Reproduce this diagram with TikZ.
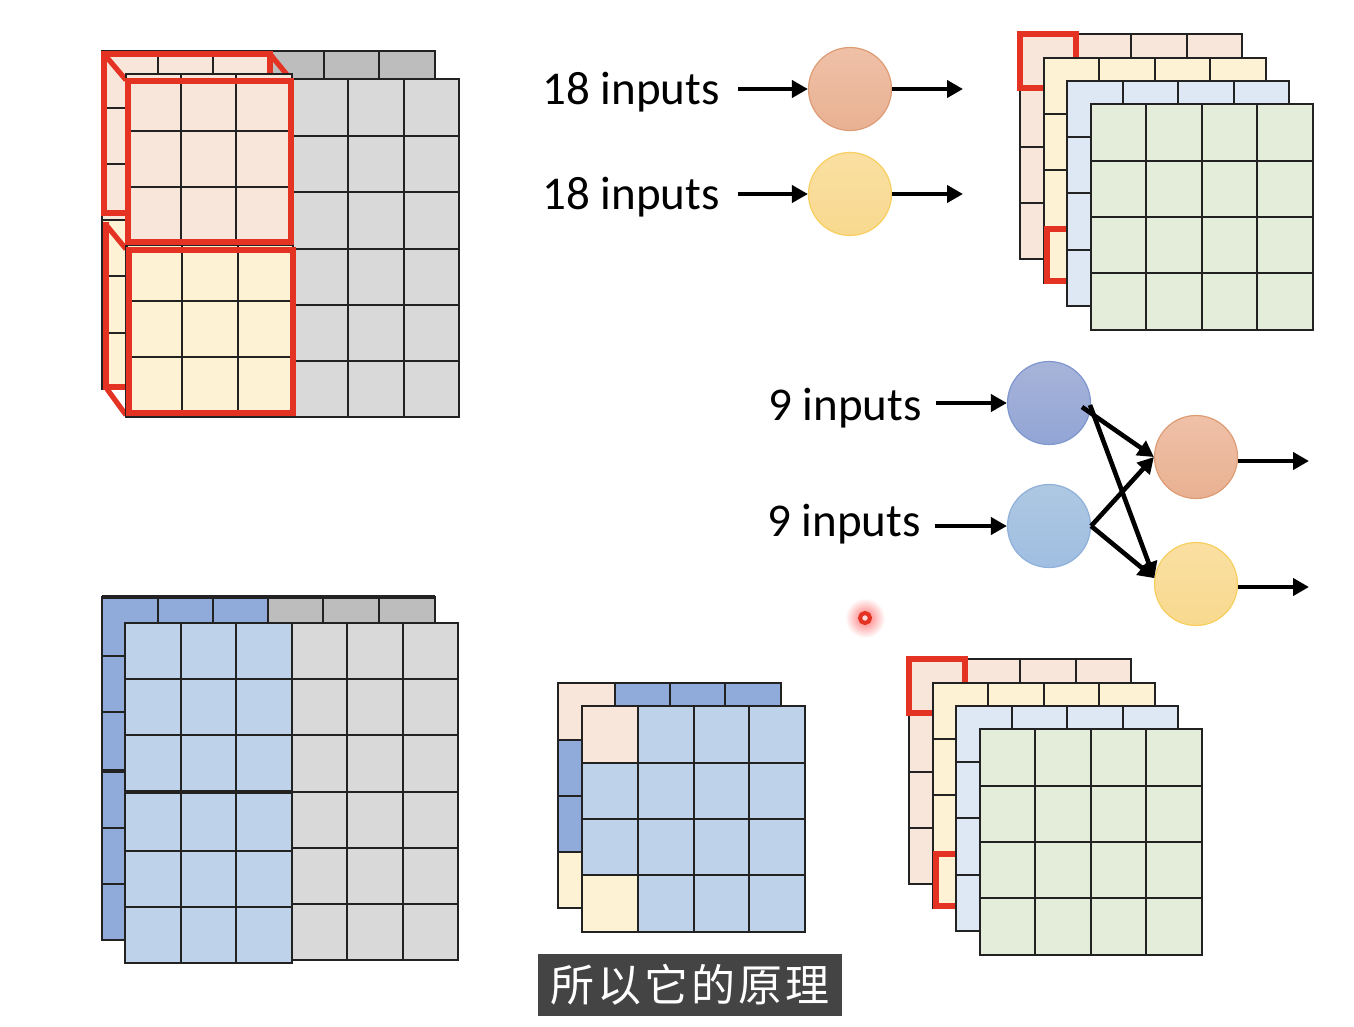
\documentclass[tikz,border=0pt]{standalone}
\usepackage{fontspec}
\usetikzlibrary{arrows.meta}
\setmainfont{Carlito}
\newfontfamily\cjkfont[LetterSpace=7]{Noto Sans CJK SC}
\definecolor{bkgray}{HTML}{BDBDBD}
\definecolor{frgray}{HTML}{D9D9D9}
\definecolor{peach}{HTML}{F8E6DA}
\definecolor{cream}{HTML}{FDF2D3}
\definecolor{ltblue}{HTML}{DEE8F4}
\definecolor{green1}{HTML}{E3EDDA}
\definecolor{dkblue}{HTML}{90AAD9}
\definecolor{mdblue}{HTML}{BED3E9}
\definecolor{redbox}{HTML}{E43223}
\definecolor{capbg}{HTML}{444444}
\definecolor{gline}{HTML}{222222}
\definecolor{npA}{HTML}{EFC0A7}\definecolor{npB}{HTML}{E9B193}\definecolor{npD}{HTML}{DE9C75}
\definecolor{nyA}{HTML}{FADFA2}\definecolor{nyB}{HTML}{F8D98F}\definecolor{nyD}{HTML}{F8CF5E}
\definecolor{nbA}{HTML}{A7B4D9}\definecolor{nbB}{HTML}{92A5D5}\definecolor{nbD}{HTML}{7F97CF}
\definecolor{ncA}{HTML}{AEC8E2}\definecolor{ncB}{HTML}{9FBEE1}\definecolor{ncD}{HTML}{8FB0DA}
\tikzset{
  gridline/.style={draw=gline,line width=1.9pt},
  redline/.style={draw=redbox,line width=5.2pt,line join=miter},
  arr/.style={draw=black,line width=4.6pt,-{Triangle[length=16pt,width=17pt]}},
  lbl/.style={font=\fontsize{47}{50}\selectfont,text height=36pt,text depth=6pt,inner ysep=0pt,inner xsep=18pt},
  lblb/.style={lbl,inner xsep=14pt},
  neuron/.style={circle,minimum size=83pt,inner sep=0pt,line width=1.2pt},
  npeach/.style={neuron,draw=npD,top color=npA,bottom color=npB},
  nyellow/.style={neuron,draw=nyD,top color=nyA,bottom color=nyB},
  nblueA/.style={neuron,draw=nbD,top color=nbA,bottom color=nbB},
  nblueB/.style={neuron,draw=ncD,top color=ncA,bottom color=ncB}
}
% x0 x1 y0 y1 inner-xs inner-ys fill
\newcommand{\gridlist}[7]{%
  \path[fill=#7] (#1,#3) rectangle (#2,#4);
  \foreach \gx in {#5} {\draw[gridline] (\gx,#3) -- (\gx,#4);}
  \foreach \gy in {#6} {\draw[gridline] (#1,\gy) -- (#2,\gy);}
  \draw[gridline] (#1,#3) rectangle (#2,#4);
}
% stack of four layers with red marks
\newcommand{\layerstack}{%
  \gridlist{1020}{1242}{34}{259}{1076,1131,1187}{90,147,203}{peach}
  \draw[redline] (1020,34) rectangle (1076,88);
  \gridlist{1044}{1266}{58}{283}{1099,1155,1210}{114,170,227}{cream}
  \draw[redline] (1047,229) rectangle (1099,281);
  \gridlist{1067}{1289}{81}{306}{1123,1178,1234}{137,193,250}{ltblue}
  \gridlist{1091}{1313}{104}{330}{1146,1202,1257}{161,217,273}{green1}
}
\begin{document}
\begin{tikzpicture}[x=1pt,y=-1pt]
\useasboundingbox (0,0) rectangle (1354,1026);
\fill[white] (0,0) rectangle (1354,1026);

% ---------- top-left ----------
\gridlist{102}{435}{51}{389}{158,213,268,324,379}{108,164,220,276,333}{bkgray}
\gridlist{102}{269}{51}{220}{158,213}{108,164}{peach}
\gridlist{102}{269}{220}{389}{158,213}{276,333}{cream}
\draw[redline] (104,54) rectangle (270,213);
\draw[redline] (106,222) -- (106,387) -- (126,387);
\draw[redline] (104,54) -- (126,80);
\draw[redline] (270,54) -- (288,76);
\draw[redline] (107,226) -- (126,249);
\draw[redline] (107,389) -- (126,415);
\gridlist{126}{459}{79}{417}{181,236,292,348,404}{136,192,249,305,361}{frgray}
\gridlist{126}{292}{74}{245}{181,236}{131,187}{peach}
\gridlist{127}{293}{245}{417}{182,238}{301,357}{cream}
\draw[redline] (128,81) rectangle (291,242);
\draw[redline] (129,250) rectangle (293,413);

% ---------- top-right stack ----------
\layerstack

% ---------- top neurons ----------
\node[lbl] (t1) at (631,89) {18 inputs};
\node[lbl] (t2) at (631,194) {18 inputs};
\node[npeach] (c1) at (850,89) {};
\node[nyellow] (c2) at (850,194) {};
\coordinate (o1) at (963,89);
\coordinate (o2) at (963,194);
\draw[arr] (t1) -- (c1);
\draw[arr] (t2) -- (c2);
\draw[arr] (c1) -- (o1);
\draw[arr] (c2) -- (o2);

% ---------- middle network ----------
\node[lblb] (t3) at (845,405) {9 inputs};
\node[lblb] (t4) at (844,521) {9 inputs};
\node[nblueA] (c3) at (1049,403) {};
\node[nblueB] (c4) at (1049,526) {};
\node[npeach] (c5) at (1196,457) {};
\node[nyellow] (c6) at (1196,584) {};
\coordinate (s1) at (1082,407);
\coordinate (s2) at (1090,405);
\coordinate (o3) at (1309,461);
\coordinate (o4) at (1309,587);
\draw[arr] (t3.east |- c3) -- (c3);
\draw[arr] (t4.east |- c4) -- (c4);
\draw[arr] (s1) -- (c5.west);
\draw[arr] (s2) -- (c6.172);
\draw[arr] (c4.east) -- (c5.west);
\draw[arr] (c4.east) -- (c6.172);
\draw[arr] (c5.east |- o3) -- (o3);
\draw[arr] (c6.east |- o4) -- (o4);

% ---------- laser pointer ----------
\node[circle,minimum size=40pt,inner sep=0pt,inner color=red!55,outer color=white] (glow) at (865,618) {};
\node[circle,minimum size=10pt,inner sep=0pt,draw=redbox,line width=4pt,fill=red!15] (dot) at (865,618) {};

% ---------- bottom-left ----------
\gridlist{102}{435}{597}{940}{158,213,268,323,379}{656,712,771,828,884}{bkgray}
\gridlist{102}{268}{597}{940}{158,213}{656,712,771,828,884}{dkblue}
\draw[draw=gline,line width=3.4pt] (102,597) -- (435,597);
\draw[draw=gline,line width=3.4pt] (102,771) -- (126,771);
\gridlist{292}{458}{623}{960}{347,403}{679,735,792,848,904}{frgray}
\gridlist{125}{292}{623}{963}{181,236}{679,735,851,907}{mdblue}
\draw[draw=gline,line width=3.6pt] (125,792) -- (292,792);

% ---------- bottom-middle ----------
\gridlist{558}{781}{683}{908}{615,670,725}{740,796,852}{dkblue}
\gridlist{558}{615}{683}{740}{}{}{peach}
\gridlist{558}{615}{852}{908}{}{}{cream}
\gridlist{582}{805}{706}{932}{638,694,749}{763,819,875}{mdblue}
\gridlist{582}{638}{706}{763}{}{}{peach}
\gridlist{582}{638}{875}{932}{}{}{cream}

% ---------- bottom-right stack ----------
\begin{scope}[shift={(-111,625)}]
\layerstack
\end{scope}

% ---------- caption ----------
\node[fill=capbg,text=white,minimum width=304pt,minimum height=62pt,inner sep=0pt,font=\cjkfont\fontsize{44}{48}\selectfont] (cap) at (690,985) {\raisebox{-1.5pt}{所以它的原理}};
\end{tikzpicture}
\end{document}
